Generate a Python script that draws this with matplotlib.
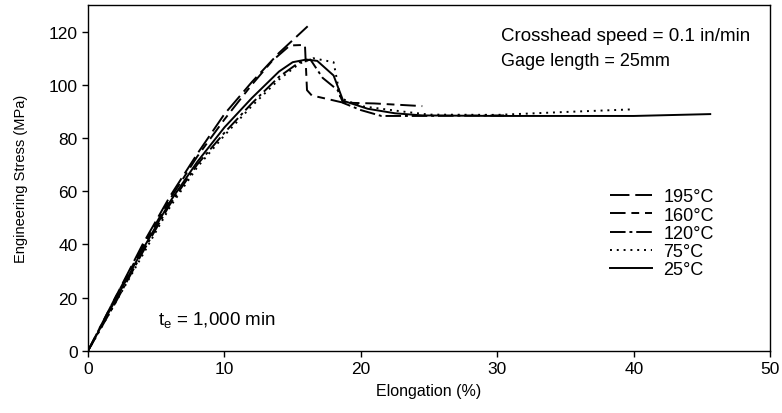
import matplotlib
matplotlib.use('Agg')
import matplotlib.pyplot as plt

plt.rcParams['font.family'] = ['Liberation Sans', 'DejaVu Sans']

# Curvas tensión-deformación (elongación %, tensión MPa)
x_195 = [0, 2, 4, 6, 8, 10, 12, 14, 16.1]
y_195 = [0, 20, 40, 58, 74, 89, 101, 112, 122]

x_160 = [0, 2, 4, 6, 8, 10, 12, 13.5, 14.8, 15.9, 16.05, 16.4, 17.7, 18.7, 21, 24.5]
y_160 = [0, 20, 39, 57, 73, 87, 100, 109, 114.8, 115, 98, 96, 94.5, 93.3, 93, 92]

x_120 = [0, 2, 4, 6, 8, 10, 12, 14, 15.5, 16.3, 17.2, 18.3, 18.7, 20, 21.5, 24, 30.5]
y_120 = [0, 18, 37, 55, 70, 82, 93, 103, 108.5, 109.5, 102.6, 98, 93.2, 90.5, 88.3, 88.3, 88.5]

x_75 = [0, 2, 4, 6, 8, 10, 12, 14, 15.5, 16.5, 18, 18.5, 20, 23, 25, 30, 35, 40]
y_75 = [0, 18, 36, 54, 69, 81, 92, 102, 108, 110, 108.5, 95, 92, 90, 88.8, 88.7, 89.8, 90.8]

x_25 = [0, 2, 4, 6, 8, 10, 12, 14, 15, 16, 16.8, 18, 18.7, 20.5, 22.5, 24.5, 30, 40, 45.6]
y_25 = [0, 19, 38, 56, 71, 84, 95, 105, 108.5, 109.5, 109, 103.5, 94, 91, 89.3, 88.5, 88.3, 88.3, 89]

labels = ['195°C', '160°C', '120°C', '75°C', '25°C']

fig = plt.figure(figsize=(7.82, 4.14), dpi=100)
ax = fig.add_axes([0.1125, 0.15, 0.8725, 0.8355])

lw = 1.4
ax.plot(x_195, y_195, color='black', lw=lw, linestyle=(0, (10, 3)), label=labels[0])
ax.plot(x_160, y_160, color='black', lw=lw, linestyle=(0, (8, 3, 4, 3)), label=labels[1])
ax.plot(x_120, y_120, color='black', lw=lw, linestyle=(0, (8, 2, 1.5, 2)), label=labels[2])
ax.plot(x_75, y_75, color='black', lw=lw, linestyle=(0, (1, 2.5)), label=labels[3])
ax.plot(x_25, y_25, color='black', lw=lw, linestyle='-', label=labels[4])

ax.set_xlim(0, 50)
ax.set_ylim(0, 130)
ax.set_xticks(range(0, 51, 10))
ax.set_yticks(range(0, 121, 20))
ax.tick_params(direction='out', length=4, width=1, labelsize=12.5)
for s in ax.spines.values():
    s.set_linewidth(1)

ax.set_xlabel('Elongation (%)', fontsize=11.5, labelpad=5)
ax.set_ylabel('Engineering Stress (MPa)', fontsize=10.5, labelpad=15)

ax.text(0.606, 0.912, 'Crosshead speed = 0.1 in/min', transform=ax.transAxes,
        fontsize=13.5, va='center')
ax.text(0.606, 0.84, 'Gage length = 25mm', transform=ax.transAxes,
        fontsize=13, va='center')
ax.text(0.103, 0.092, r'$\mathregular{t_e}$ = 1,000 min', transform=ax.transAxes,
        fontsize=13.5, va='center')

ax.legend(loc='upper left', bbox_to_anchor=(0.765, 0.47), frameon=False,
          fontsize=13, handlelength=2.35, handletextpad=0.6, labelspacing=0.07,
          borderpad=0, borderaxespad=0)

fig.savefig('out.png', dpi=100)
